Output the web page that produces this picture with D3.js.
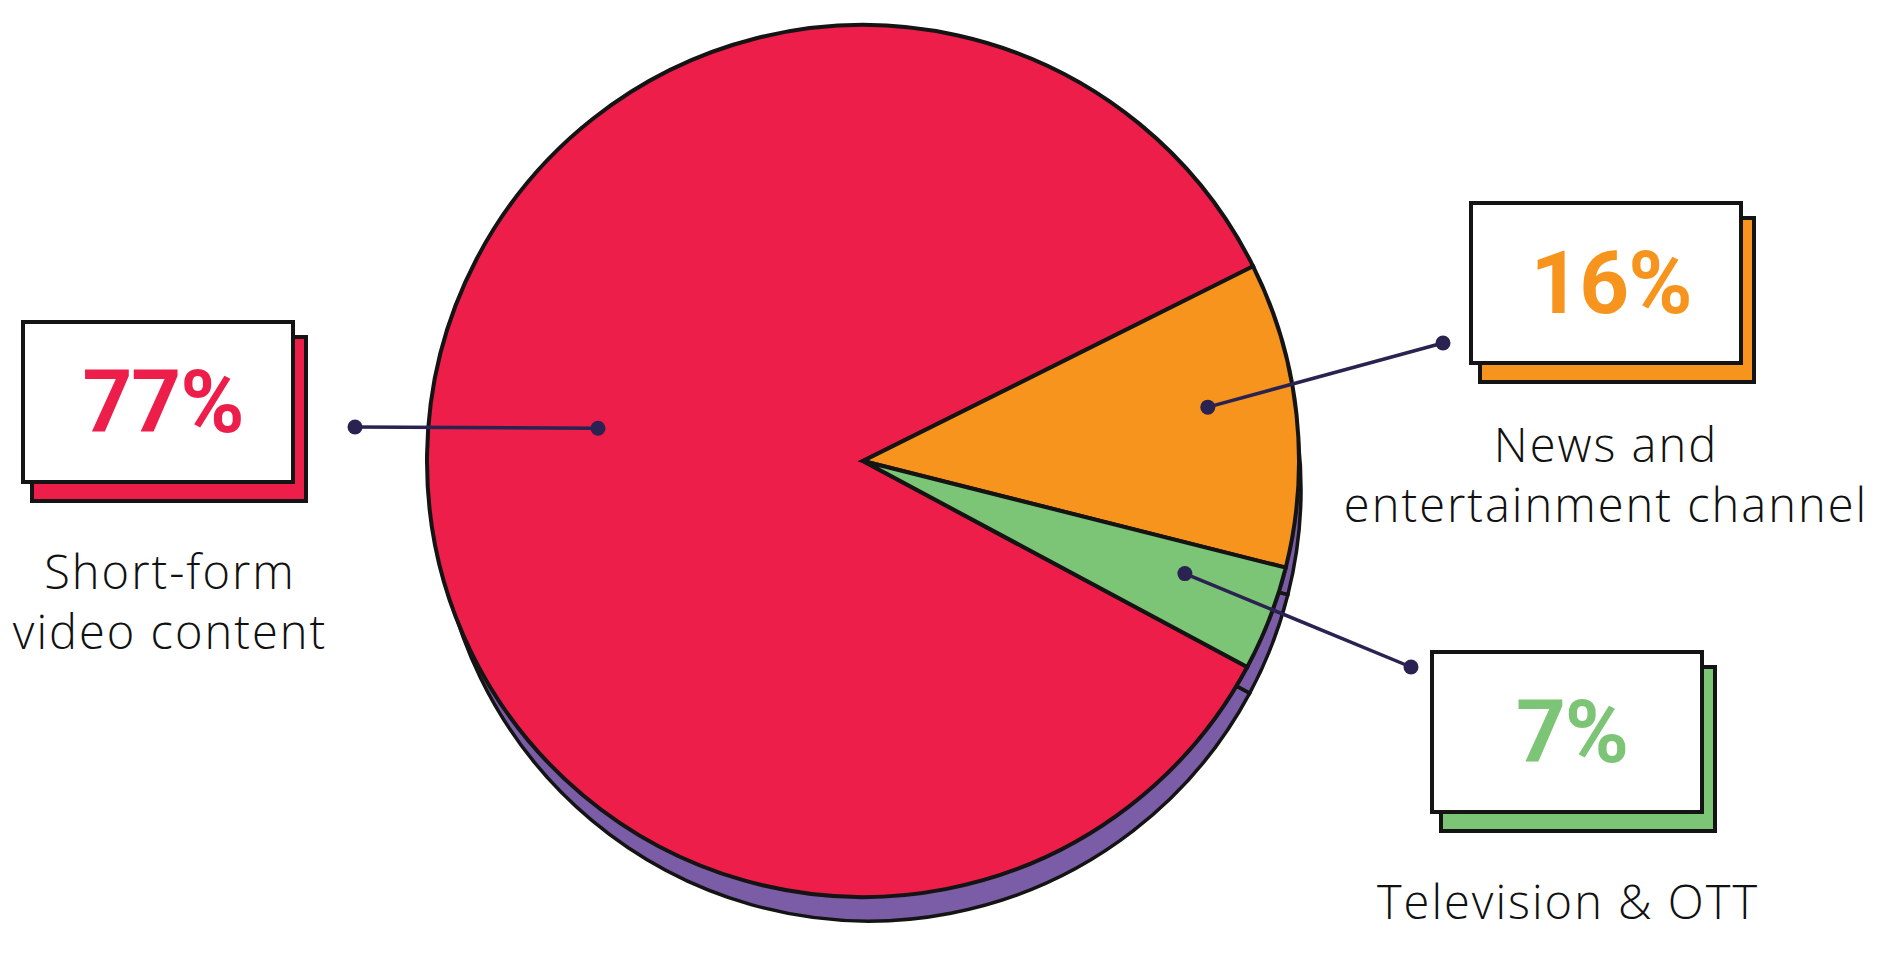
<!DOCTYPE html>
<html>
<head>
<meta charset="utf-8">
<script src="https://cdn.jsdelivr.net/npm/d3@7/dist/d3.min.js"></script>
<style>
  html, body { margin: 0; padding: 0; background: #fff; }
  .pct { font-family: Roboto, "Open Sans", sans-serif; font-weight: 700; }
  .cat { font-family: "Open Sans", Lato, sans-serif; font-weight: 300; fill: #111; }
</style>
</head>
<body>
<div id="chart"></div>
<script>
'use strict';
(function() {
  // Categories and the percentages printed on the chart
  var categories = ['Short-form video content', 'News and entertainment channel', 'Television & OTT'];
  var categoryLines = [['Short-form', 'video content'], ['News and', 'entertainment channel'], ['Television & OTT']];
  var percentLabels = [77, 16, 7];
  // The artwork's slices are not drawn to the printed numbers, these are the shares as drawn
  var sliceShares = [84.8, 11.3, 3.9];

  // Colors
  var COLORS = ['#ED1E4A', '#F7941E', '#7DC576'];
  var SHADOW = '#7B5CA6';
  var INK = '#141414';
  var NAVY = '#2A2250';

  // Size
  var w = 1881;
  var h = 953;
  var cx = 863;
  var cy = 461;
  var radius = 436;
  var startDeg = 118.2;

  // Callout layout: label box, outer dot, nudge of the inner dot
  var callouts = [
    {box: [23, 322], dot: [355, 427], dotR: 267, nudge: 6.2, text: [170, 589]},
    {box: [1471, 203], dot: [1443, 343], dotR: 349, nudge: -2.7, text: [1606, 462]},
    {box: [1432, 652], dot: [1411, 667], dotR: 341, nudge: -1.9, text: [1568, 919]}
  ];
  var boxW = 270;
  var boxH = 160;

  var data = categories.map(function(c, i) {
    return {name: c, share: sliceShares[i], label: percentLabels[i] + '%', lines: categoryLines[i], color: COLORS[i]};
  });

  var rad = function(d) { return d * Math.PI / 180; };

  var pie = d3.pie()
    .sort(null)
    .value(function(d) { return d.share; })
    .startAngle(rad(startDeg))
    .endAngle(rad(startDeg) + 2 * Math.PI);

  var arcs = pie(data);

  var svg = d3.select('#chart')
    .append('svg')
    .attr('width', w)
    .attr('height', h);

  svg.append('rect').attr('width', w).attr('height', h).attr('fill', '#fff');

  // Purple base under the pie
  var shadowArc = d3.arc().innerRadius(0).outerRadius(radius - 4);
  svg.append('g')
    .attr('transform', 'translate(' + (cx + 6) + ',' + (cy + 28) + ')')
    .selectAll('path')
    .data(arcs)
    .enter()
    .append('path')
    .attr('d', shadowArc)
    .attr('fill', SHADOW)
    .attr('stroke', INK)
    .attr('stroke-width', 3.5);

  // Pie slices
  var arc = d3.arc().innerRadius(0).outerRadius(radius);
  svg.append('g')
    .attr('transform', 'translate(' + cx + ',' + cy + ')')
    .selectAll('path')
    .data(arcs)
    .enter()
    .append('path')
    .attr('d', arc)
    .attr('fill', function(d) { return d.data.color; })
    .attr('stroke', INK)
    .attr('stroke-width', 4)
    .attr('stroke-linejoin', 'miter');

  // Connector lines
  var lines = svg.append('g').attr('class', 'callouts');
  arcs.forEach(function(d, i) {
    var c = callouts[i];
    var mid = (d.startAngle + d.endAngle) / 2 + rad(c.nudge);
    var p = d3.pointRadial(mid, c.dotR);
    var inner = [cx + p[0], cy + p[1]];
    lines.append('line')
      .attr('x1', inner[0]).attr('y1', inner[1])
      .attr('x2', c.dot[0]).attr('y2', c.dot[1])
      .attr('stroke', NAVY)
      .attr('stroke-width', 3.5);
    [inner, c.dot].forEach(function(pt) {
      lines.append('circle')
        .attr('cx', pt[0]).attr('cy', pt[1])
        .attr('r', 7.5)
        .attr('fill', NAVY);
    });
  });

  // Label boxes
  var boxes = svg.append('g')
    .selectAll('g')
    .data(arcs)
    .enter()
    .append('g');

  boxes.append('rect')
    .attr('x', function(d, i) { return callouts[i].box[0] + 9; })
    .attr('y', function(d, i) { return callouts[i].box[1] + 15; })
    .attr('width', boxW + 4)
    .attr('height', boxH + 4)
    .attr('fill', function(d) { return d.data.color; })
    .attr('stroke', INK)
    .attr('stroke-width', 4);

  boxes.append('rect')
    .attr('x', function(d, i) { return callouts[i].box[0]; })
    .attr('y', function(d, i) { return callouts[i].box[1]; })
    .attr('width', boxW)
    .attr('height', boxH)
    .attr('fill', '#fff')
    .attr('stroke', INK)
    .attr('stroke-width', 4);

  boxes.append('text')
    .attr('class', 'pct')
    .attr('x', function(d, i) { return callouts[i].box[0] + boxW / 2 + 5; })
    .attr('y', function(d, i) { return callouts[i].box[1] + 110; })
    .attr('text-anchor', 'middle')
    .attr('font-size', 87)
    .attr('letter-spacing', -1)
    .attr('fill', function(d) { return d.data.color; })
    .text(function(d) { return d.data.label; });

  // Category names
  boxes.each(function(d, i) {
    var t = d3.select(this).append('text')
      .attr('class', 'cat')
      .attr('text-anchor', 'middle')
      .attr('font-size', 47)
      .attr('letter-spacing', 2);
    d.data.lines.forEach(function(line, j) {
      t.append('tspan')
        .attr('x', callouts[i].text[0])
        .attr('y', callouts[i].text[1] + j * 60)
        .text(line);
    });
  });
})();
</script>
</body>
</html>
